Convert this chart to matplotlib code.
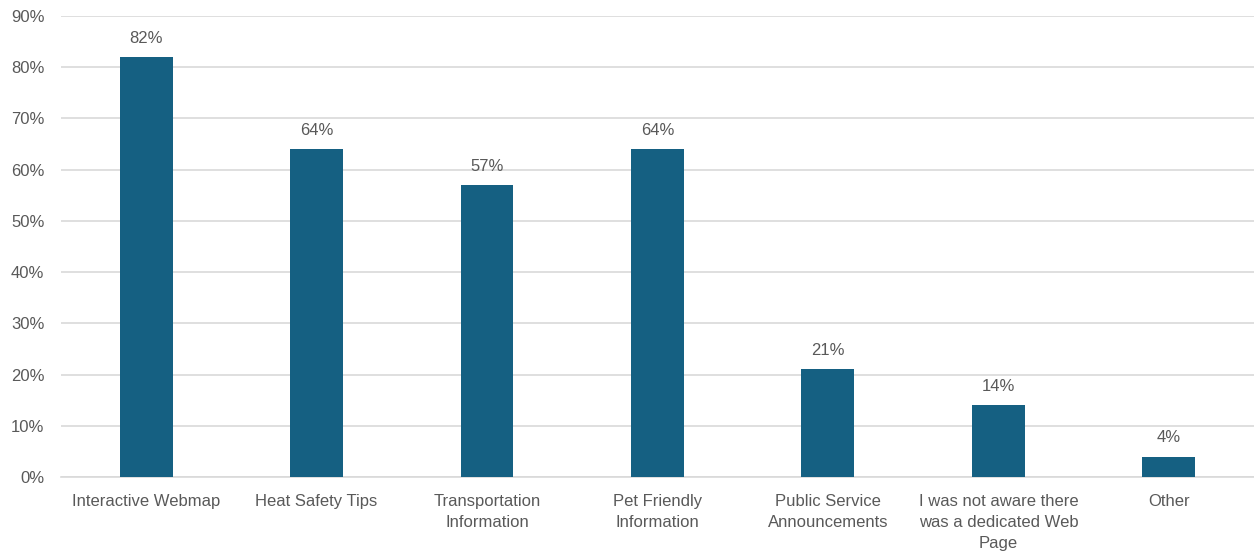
import matplotlib
matplotlib.use("Agg")
import matplotlib.pyplot as plt
from matplotlib.ticker import FuncFormatter

# Survey results: which parts of the web page were useful
categories = [
    "Interactive Webmap",
    "Heat Safety Tips",
    "Transportation\nInformation",
    "Pet Friendly\nInformation",
    "Public Service\nAnnouncements",
    "I was not aware there\nwas a dedicated Web\nPage",
    "Other",
]
percent = [82, 64, 57, 64, 21, 14, 4]

bar_color = "#156082"
text_color = "#595959"
grid_color = "#d9d9d9"

plt.rcParams["font.family"] = ["Liberation Sans", "DejaVu Sans"]

fig = plt.figure(figsize=(12.54, 5.55), dpi=100)
ax = fig.add_axes([0.0486, 0.1405, 0.9514, 0.8307])

x = list(range(len(categories)))
bars = ax.bar(x, percent, width=0.31, color=bar_color, zorder=3)

for rect, v in zip(bars, percent):
    ax.annotate(f"{v}%", (rect.get_x() + rect.get_width() / 2, v),
                xytext=(0, 8), textcoords="offset points",
                ha="center", va="bottom", fontsize=12, color=text_color)

ax.set_xlim(-0.5, len(categories) - 0.5)
ax.set_ylim(0, 90)
ax.set_yticks(range(0, 91, 10))
ax.yaxis.set_major_formatter(FuncFormatter(lambda v, _: f"{v:.0f}%"))
ax.set_xticks(x)
ax.set_xticklabels(categories, fontsize=12, color=text_color, linespacing=1.5)
ax.tick_params(axis="y", labelsize=12, labelcolor=text_color, length=0, pad=12)
ax.tick_params(axis="x", length=0, pad=12)

ax.grid(axis="y", color=grid_color, linewidth=1.2, zorder=0)
for side in ["top", "right", "left"]:
    ax.spines[side].set_visible(False)
ax.spines["bottom"].set_color(grid_color)
ax.spines["bottom"].set_linewidth(1.2)

fig.savefig("out.png", dpi=100)
